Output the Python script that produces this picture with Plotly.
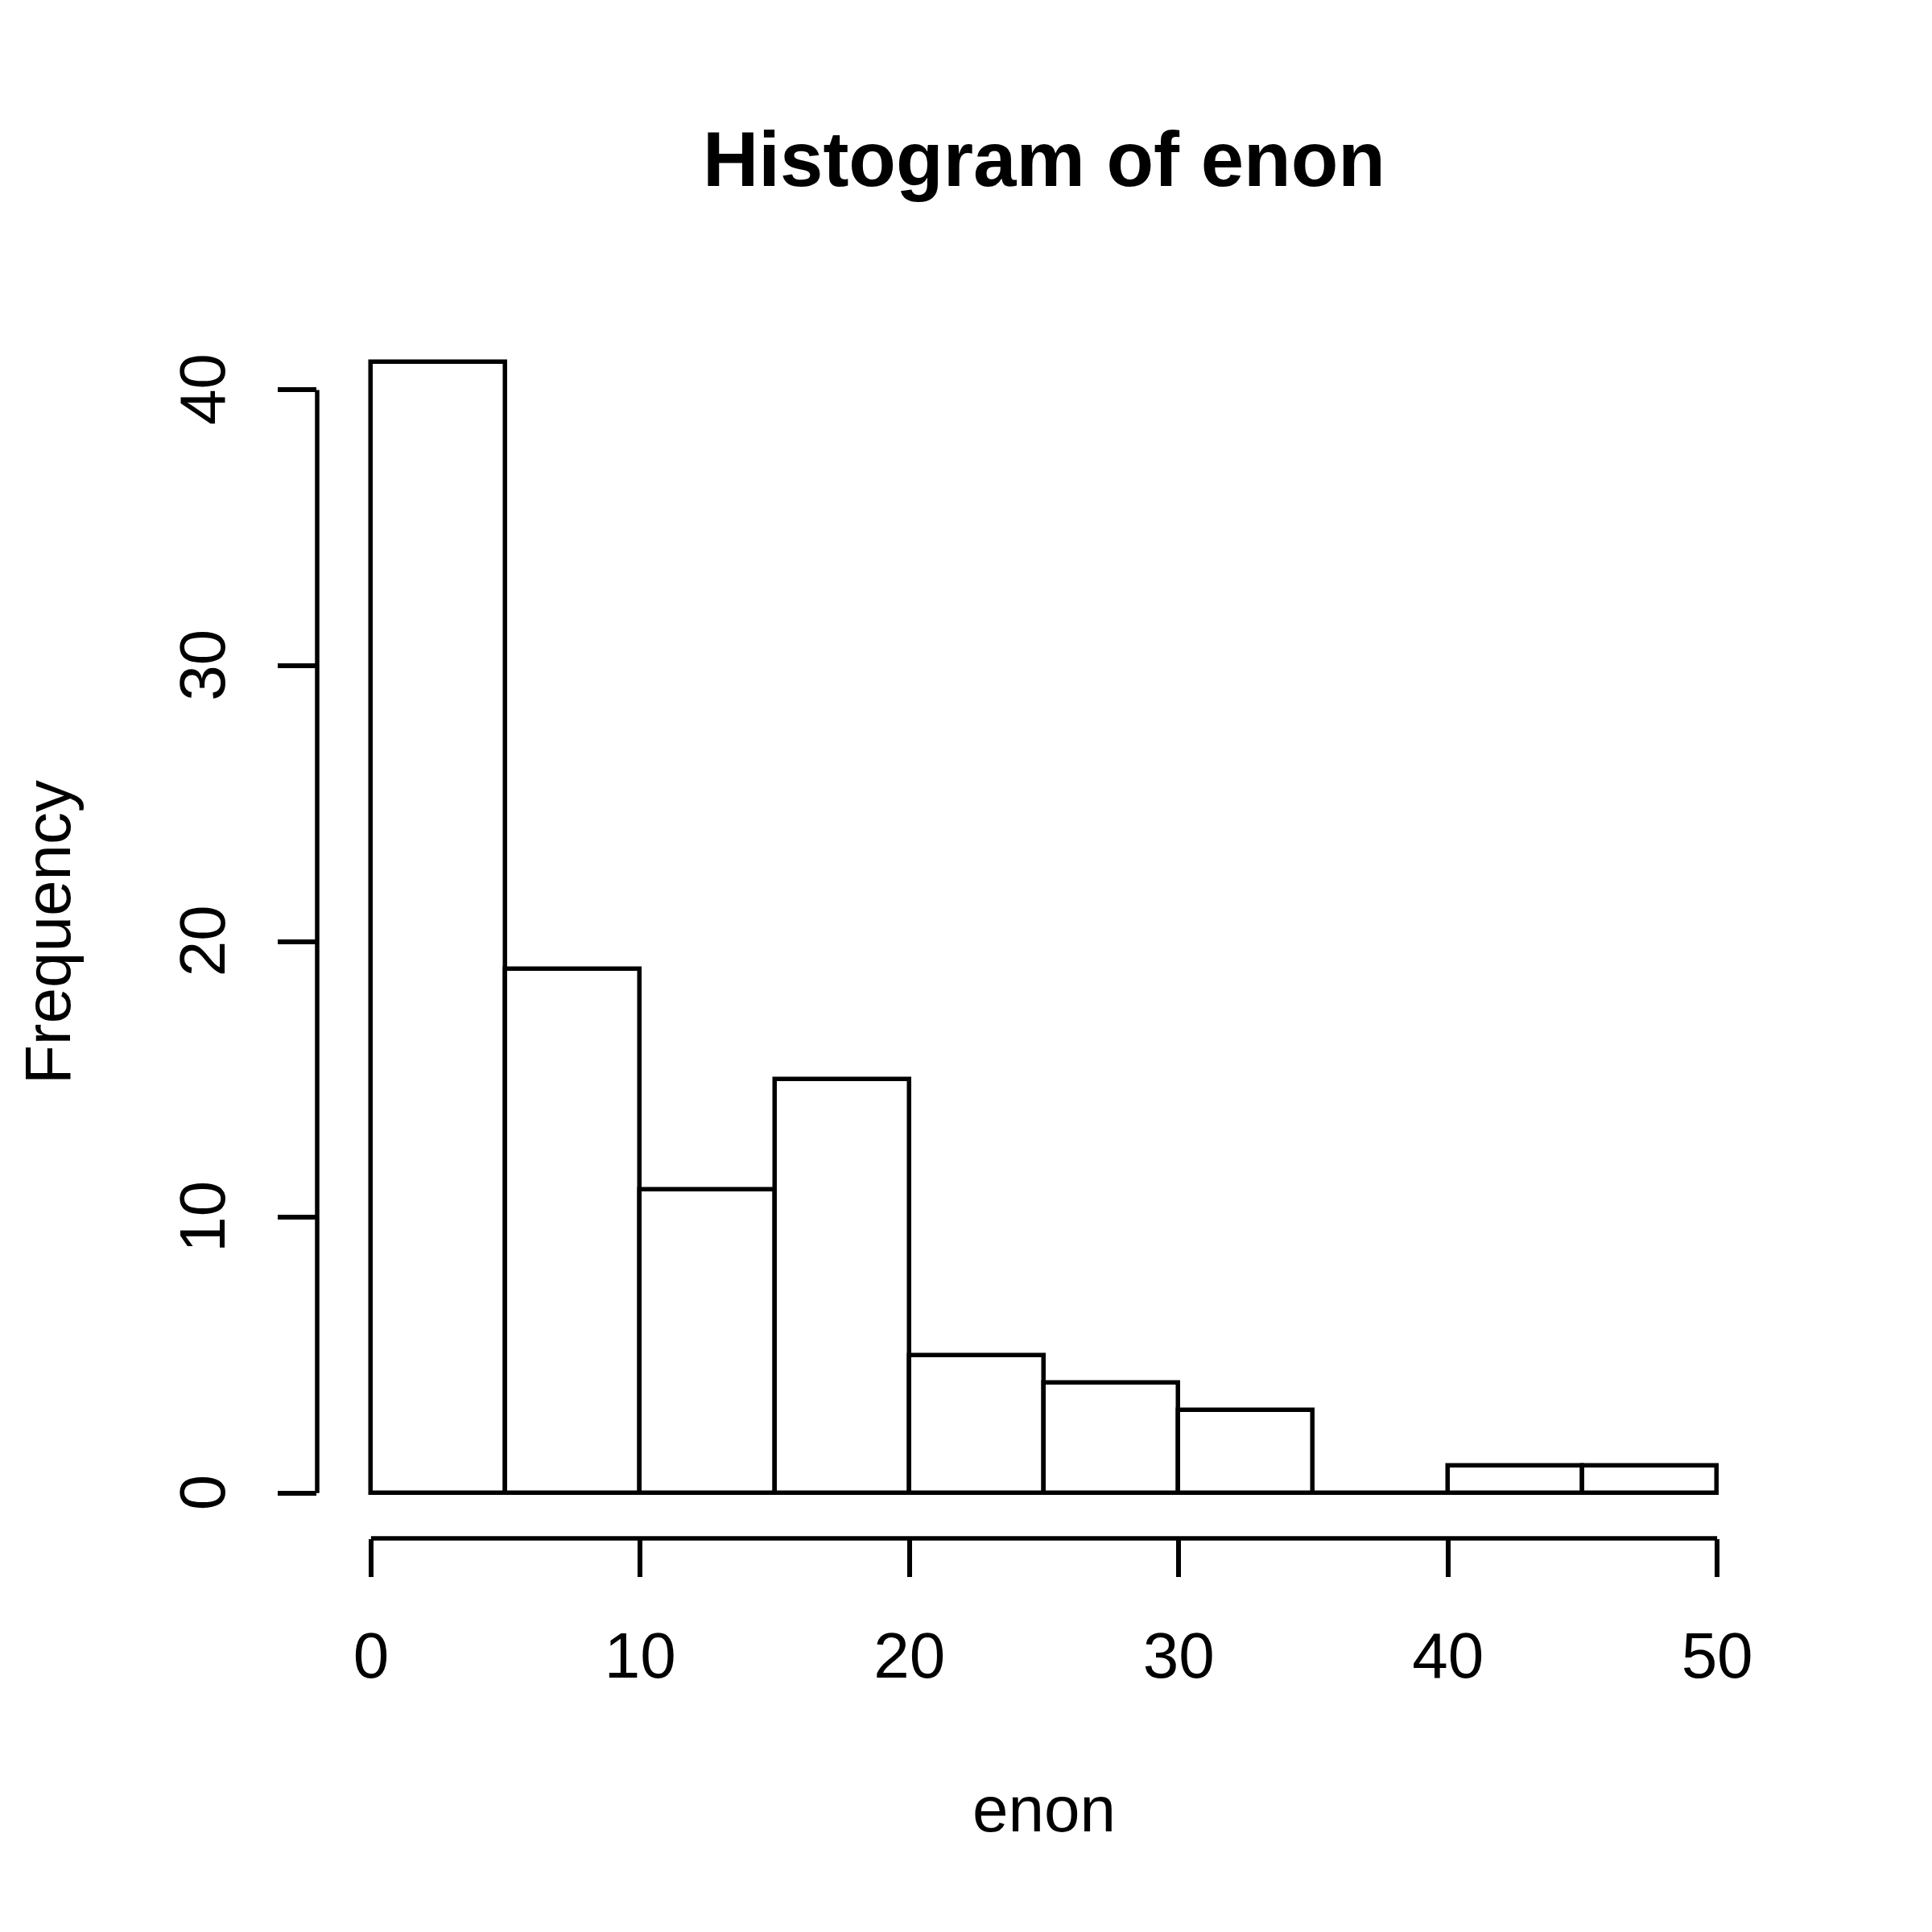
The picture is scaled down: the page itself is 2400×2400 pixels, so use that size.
import plotly.graph_objects as go

# Data
breaks = [0, 5, 10, 15, 20, 25, 30, 35, 40, 45, 50]
counts = [41, 19, 11, 15, 5, 4, 3, 0, 1, 1]
x_ticks = [0, 10, 20, 30, 40, 50]
y_ticks = [0, 10, 20, 30, 40]
title_text = "Histogram of enon"
x_label = "enon"
y_label = "Frequency"

centers = [(breaks[i] + breaks[i + 1]) / 2 for i in range(len(counts))]
widths = [breaks[i + 1] - breaks[i] for i in range(len(counts))]

FONT = "Liberation Sans, Arial, Helvetica, sans-serif"
LW = 5.5

# R-style usr extents (4% extension)
xr = [breaks[0] - 0.04 * (breaks[-1] - breaks[0]), breaks[-1] + 0.04 * (breaks[-1] - breaks[0])]
ymax = max(counts)
yr = [-0.04 * ymax, ymax * 1.04]

fig = go.Figure()
fig.add_trace(go.Bar(
    x=centers, y=counts, width=widths,
    marker=dict(color="white", line=dict(color="black", width=LW)),
    hoverinfo="skip",
))

W = H = 2400
L, R, T, B = 386, 208, 386, 497

fig.update_layout(
    width=W, height=H,
    margin=dict(l=L, r=R, t=T, b=B, pad=0),
    paper_bgcolor="white", plot_bgcolor="white",
    showlegend=False, bargap=0,
    font=dict(family=FONT, size=80, color="black"),
    title=dict(text="<b>" + title_text + "</b>", x=(L + (W - R)) / 2 / W, xanchor="center",
               y=1 - 189 / H, yanchor="middle", yref="container",
               font=dict(size=96, family=FONT, color="black")),
    xaxis=dict(range=xr, showgrid=False, zeroline=False, showline=False,
               tickmode="array", tickvals=x_ticks, ticktext=[str(v) for v in x_ticks],
               ticks="outside", ticklen=47, tickwidth=LW, tickcolor="black",
               ticklabelstandoff=29,
               tickfont=dict(size=80, family=FONT, color="black")),
    yaxis=dict(range=yr, showgrid=False, zeroline=False, showline=False,
               tickmode="array", tickvals=y_ticks,
               ticktext=[str(v) + "\u00a0" for v in y_ticks],
               ticks="outside", ticklen=48, tickwidth=LW, tickcolor="black", tickangle=-90,
               ticklabelstandoff=34,
               tickfont=dict(size=80, family=FONT, color="black")),
)

# R-style axis lines spanning first to last tick
fig.add_shape(type="line", xref="x", yref="paper", x0=x_ticks[0], x1=x_ticks[-1], y0=0, y1=0,
              line=dict(color="black", width=LW))
fig.add_shape(type="line", xref="paper", yref="y", x0=0, x1=0, y0=y_ticks[0], y1=y_ticks[-1],
              line=dict(color="black", width=LW))

pw = W - L - R
ph = H - T - B
fig.add_annotation(text=x_label, xref="paper", yref="paper",
                   x=0.5, y=-(2239 - (H - B)) / ph, xanchor="center", yanchor="middle",
                   showarrow=False, font=dict(size=80, family=FONT, color="black"))
fig.add_annotation(text=y_label, xref="paper", yref="paper", textangle=-90,
                   x=-(L - 51) / pw, y=(H - B - 1150) / ph, xanchor="center", yanchor="middle",
                   showarrow=False, font=dict(size=80, family=FONT, color="black"))

fig.write_html("out.html")
